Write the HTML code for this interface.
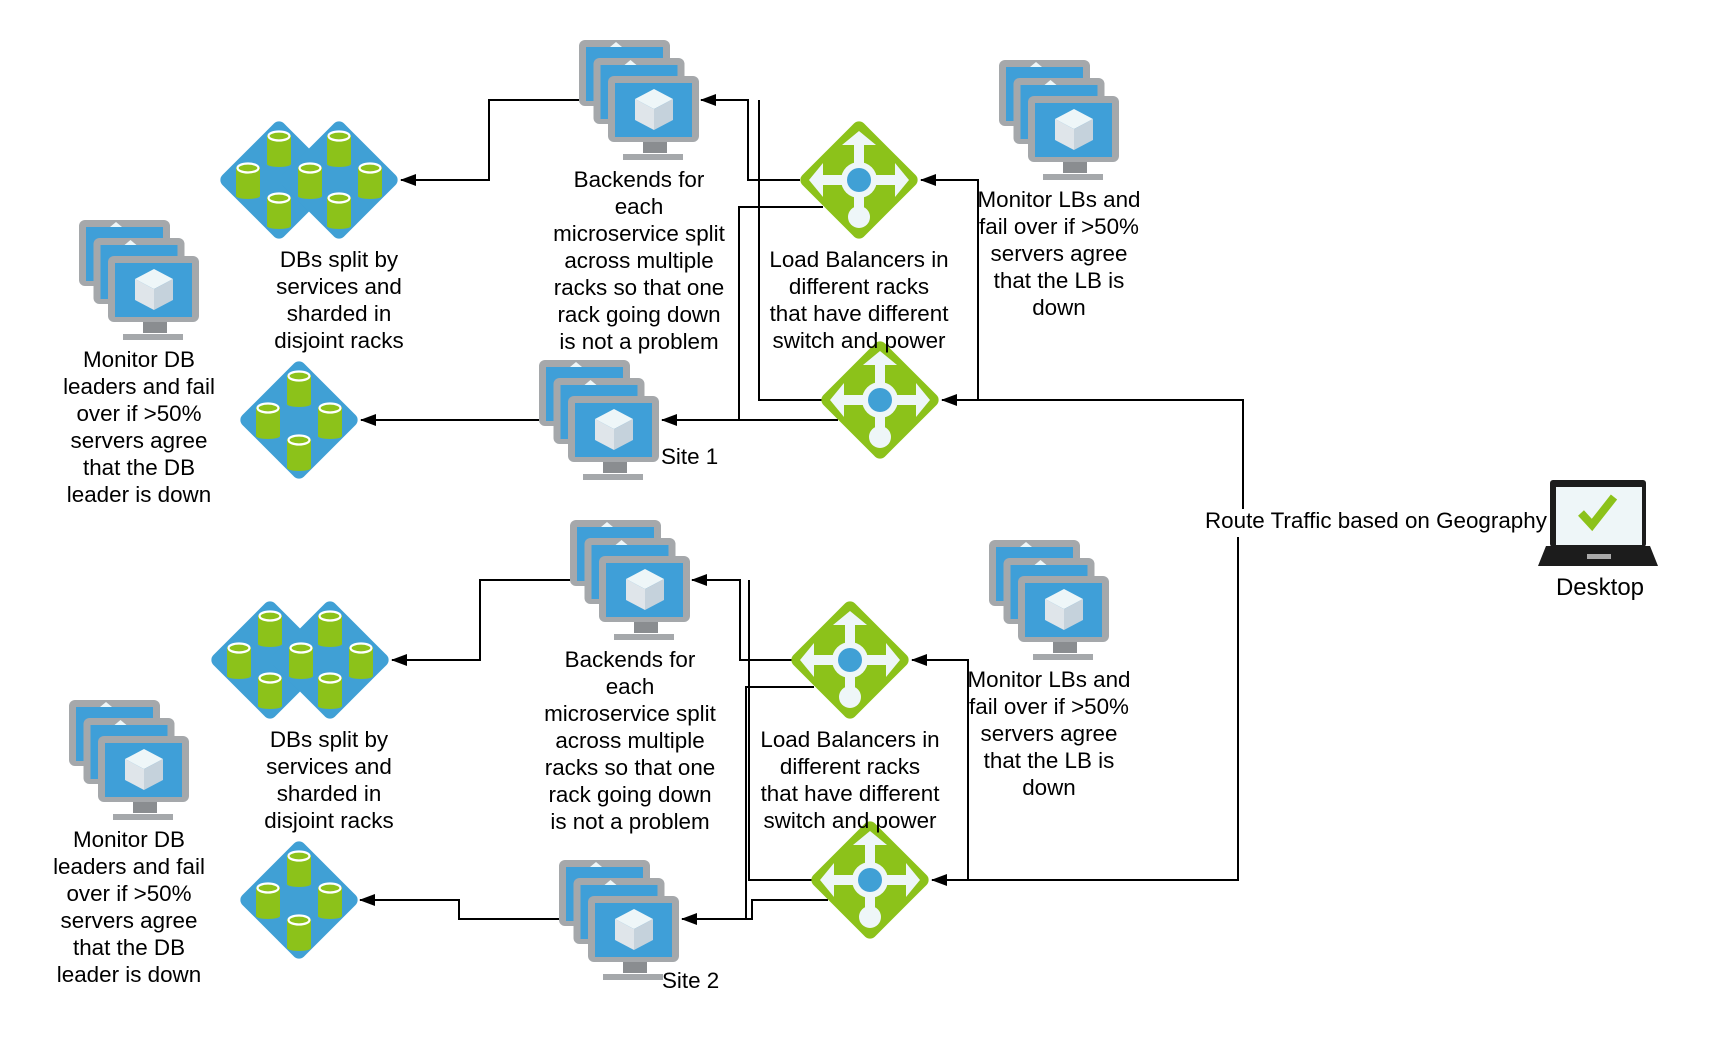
<!DOCTYPE html>
<html><head><meta charset="utf-8"><style>
html,body{margin:0;padding:0;background:#fff;width:1728px;height:1054px;overflow:hidden}
svg{display:block}
text{font-family:"Liberation Sans",sans-serif;font-size:22.4px;fill:#000;text-anchor:middle}
</style></head><body>
<svg width="1728" height="1054" viewBox="0 0 1728 1054" xmlns="http://www.w3.org/2000/svg">
<defs>
<g id="mon">
 <rect x="0" y="0" width="91" height="66" rx="6" fill="#a5a8ab"/>
 <rect x="7" y="7" width="77" height="54" fill="#3f9fd8"/>
 <polygon points="31,7 37,2 43,7" fill="#eef6f8"/>
</g>
<g id="monf">
 <rect x="35" y="64" width="24" height="13" fill="#8a8d90"/>
 <rect x="15" y="78" width="60" height="6" fill="#a5a8ab"/>
 <rect x="0" y="0" width="91" height="66" rx="6" fill="#a5a8ab"/>
 <rect x="7" y="7" width="77" height="54" fill="#3f9fd8"/>
 <polygon points="46,13 65,23 46,33 27,23" fill="#eef6f8"/>
 <polygon points="27,23 46,33 46,54 27,44" fill="#dfe5ea"/>
 <polygon points="46,33 65,23 65,44 46,54" fill="#c5d2dc"/>
</g>
<g id="stack">
 <use href="#mon" x="0" y="0"/>
 <use href="#mon" x="14.5" y="18"/>
 <use href="#monf" x="29" y="36"/>
</g>
<g id="cyl">
 <rect x="-12" y="-13" width="24" height="29" fill="#8cc21a"/>
 <ellipse cx="0" cy="16" rx="12" ry="3" fill="#8cc21a"/>
 <ellipse cx="0" cy="-12" rx="10.5" ry="4.5" fill="#8cc21a" stroke="#fff" stroke-width="2.2"/>
</g>
<rect id="dia" x="-43.5" y="-43.5" width="87" height="87" rx="7" transform="rotate(45)"/>
<g id="db4">
 <use href="#dia" fill="#40a0d5"/>
 <use href="#cyl" x="0" y="-32"/><use href="#cyl" x="-31" y="0"/><use href="#cyl" x="31" y="0"/><use href="#cyl" x="0" y="32"/>
</g>
<g id="db7">
 <use href="#dia" x="-30" fill="#40a0d5"/><use href="#dia" x="30" fill="#40a0d5"/>
 <use href="#cyl" x="-30" y="-32"/><use href="#cyl" x="30" y="-32"/>
 <use href="#cyl" x="-61" y="0"/><use href="#cyl" x="1" y="0"/><use href="#cyl" x="61" y="0"/>
 <use href="#cyl" x="-30" y="30"/><use href="#cyl" x="30" y="30"/>
</g>
<g id="lb">
 <use href="#dia" fill="#8cc21a"/>
 <g fill="#eef6f8">
  <rect x="-5" y="-38" width="10" height="76"/>
  <rect x="-38" y="-5" width="76" height="10"/>
  <polygon points="0,-49 17,-35 -17,-35"/>
  <polygon points="-50,0 -36,-17 -36,17"/>
  <polygon points="50,0 36,-17 36,17"/>
  <circle cx="0" cy="0" r="18"/>
  <circle cx="0" cy="37" r="11"/>
 </g>
 <circle cx="0" cy="0" r="12" fill="#40a0d5"/>
</g>
<marker id="ah" markerWidth="16" markerHeight="12" refX="15" refY="6" orient="auto" markerUnits="userSpaceOnUse">
 <polygon points="0,0 16,6 0,12" fill="#000"/>
</marker>
</defs>

<g fill="none" stroke="#000" stroke-width="2">
 <polyline points="579,100 489,100 489,180 401,180" marker-end="url(#ah)"/>
 <polyline points="539,420 361,420" marker-end="url(#ah)"/>
 <polyline points="800,180 748,180 748,100 701,100" marker-end="url(#ah)"/>
 <polyline points="759,100 759,400 822,400"/>
 <polyline points="823,207 739,207 739,420"/>
 <polyline points="838,420 662,420" marker-end="url(#ah)"/>
 <polyline points="978,400 978,180 921,180" marker-end="url(#ah)"/>
 <polyline points="1243,509 1243,400 942,400" marker-end="url(#ah)"/>
 <polyline points="1238,537 1238,880 932,880" marker-end="url(#ah)"/>
 <polyline points="570,580 480,580 480,660 392,660" marker-end="url(#ah)"/>
 <polyline points="559,919 459,919 459,900 360,900" marker-end="url(#ah)"/>
 <polyline points="792,660 740,660 740,580 692,580" marker-end="url(#ah)"/>
 <polyline points="749,580 749,880 812,880"/>
 <polyline points="814,687 746,687 746,919"/>
 <polyline points="828,900 752,900 752,919 682,919" marker-end="url(#ah)"/>
 <polyline points="968,880 968,660 912,660" marker-end="url(#ah)"/>
</g>

<use href="#stack" x="579" y="40"/>
<use href="#stack" x="539" y="360"/>
<use href="#stack" x="999" y="60"/>
<use href="#stack" x="79" y="220"/>
<use href="#stack" x="570" y="520"/>
<use href="#stack" x="559" y="860"/>
<use href="#stack" x="989" y="540"/>
<use href="#stack" x="69" y="700"/>

<use href="#db7" x="309" y="180"/>
<use href="#db4" x="299" y="420"/>
<use href="#db7" x="300" y="660"/>
<use href="#db4" x="299" y="900"/>

<use href="#lb" x="859" y="180"/>
<use href="#lb" x="880" y="400"/>
<use href="#lb" x="850" y="660"/>
<use href="#lb" x="870" y="880"/>

<g>
 <rect x="1550" y="480" width="96" height="67" rx="3" fill="#1c1c1c"/>
 <rect x="1556" y="487" width="86" height="58" fill="#eef6f8"/>
 <polygon points="1546,546 1650,546 1658,566 1538,566" fill="#1c1c1c"/>
 <rect x="1587" y="554" width="24" height="5" fill="#aaa"/>
 <polyline points="1581,513 1592,525 1614,497" fill="none" stroke="#8cc21a" stroke-width="8"/>
</g>

<text x="639" y="187">Backends for</text>
<text x="639" y="214">each</text>
<text x="639" y="241">microservice split</text>
<text x="639" y="268">across multiple</text>
<text x="639" y="295">racks so that one</text>
<text x="639" y="322">rack going down</text>
<text x="639" y="349">is not a problem</text>

<text x="859" y="267">Load Balancers in</text>
<text x="859" y="294">different racks</text>
<text x="859" y="321">that have different</text>
<text x="859" y="348">switch and power</text>

<text x="1059" y="207">Monitor LBs and</text>
<text x="1059" y="234">fail over if &gt;50%</text>
<text x="1059" y="261">servers agree</text>
<text x="1059" y="288">that the LB is</text>
<text x="1059" y="315">down</text>

<text x="339" y="267">DBs split by</text>
<text x="339" y="294">services and</text>
<text x="339" y="321">sharded in</text>
<text x="339" y="348">disjoint racks</text>

<text x="139" y="367">Monitor DB</text>
<text x="139" y="394">leaders and fail</text>
<text x="139" y="421">over if &gt;50%</text>
<text x="139" y="448">servers agree</text>
<text x="139" y="475">that the DB</text>
<text x="139" y="502">leader is down</text>

<text x="661" y="464" style="text-anchor:start">Site 1</text>

<text x="630" y="667">Backends for</text>
<text x="630" y="694">each</text>
<text x="630" y="721">microservice split</text>
<text x="630" y="748">across multiple</text>
<text x="630" y="775">racks so that one</text>
<text x="630" y="802">rack going down</text>
<text x="630" y="829">is not a problem</text>

<text x="850" y="747">Load Balancers in</text>
<text x="850" y="774">different racks</text>
<text x="850" y="801">that have different</text>
<text x="850" y="828">switch and power</text>

<text x="1049" y="687">Monitor LBs and</text>
<text x="1049" y="714">fail over if &gt;50%</text>
<text x="1049" y="741">servers agree</text>
<text x="1049" y="768">that the LB is</text>
<text x="1049" y="795">down</text>

<text x="329" y="747">DBs split by</text>
<text x="329" y="774">services and</text>
<text x="329" y="801">sharded in</text>
<text x="329" y="828">disjoint racks</text>

<text x="129" y="847">Monitor DB</text>
<text x="129" y="874">leaders and fail</text>
<text x="129" y="901">over if &gt;50%</text>
<text x="129" y="928">servers agree</text>
<text x="129" y="955">that the DB</text>
<text x="129" y="982">leader is down</text>

<text x="662" y="988" style="text-anchor:start">Site 2</text>

<text x="1205" y="528" style="text-anchor:start">Route Traffic based on Geography</text>
<text x="1600" y="595" style="font-size:24px">Desktop</text>
</svg>
</body></html>
